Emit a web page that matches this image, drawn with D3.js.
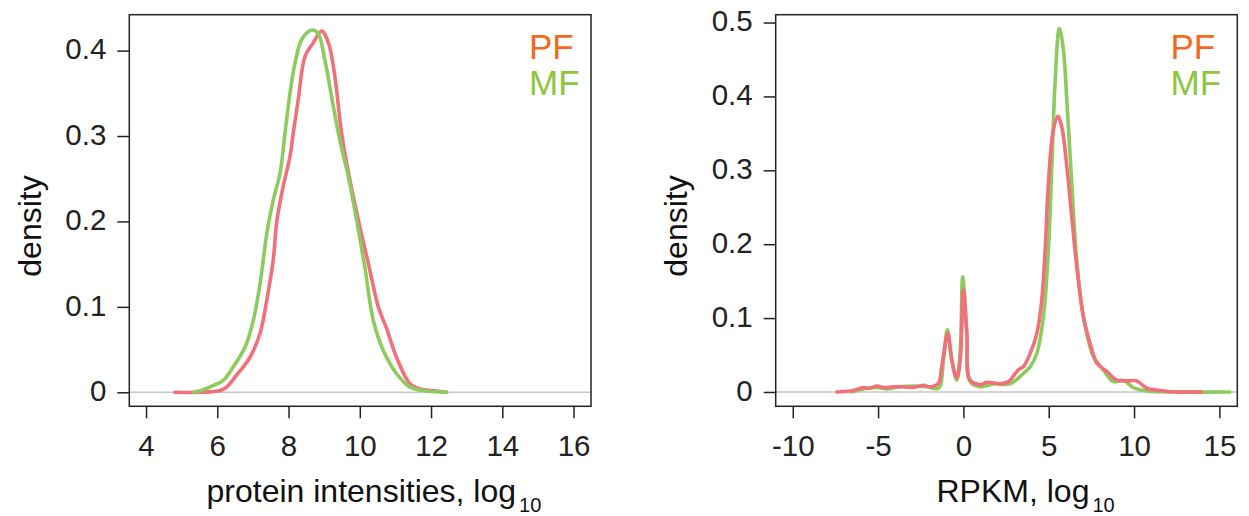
<!DOCTYPE html>
<html>
<head>
<meta charset="utf-8">
<script src="https://cdn.jsdelivr.net/npm/d3@7"></script>
<style>
  body { margin: 0; background: #fff; }
  svg { display: block; font-family: "Liberation Sans", Arial, Helvetica, sans-serif; }
</style>
</head>
<body>
<div class="chart"></div>
<script>
// density values
var protPFx = [4.81, 5.52, 6.08, 6.26, 6.54, 6.92, 7.20, 7.39, 7.57, 7.67, 7.85, 8.04, 8.13, 8.27, 8.46, 8.69, 8.93, 9.12, 9.30, 9.49, 9.72, 10.0, 10.24, 10.52, 10.75, 11.03, 11.41, 11.69, 12.16, 12.44];
var protPFy = [0, 0, 0.002, 0.006, 0.020, 0.041, 0.069, 0.108, 0.155, 0.200, 0.241, 0.276, 0.303, 0.342, 0.393, 0.409, 0.423, 0.409, 0.370, 0.303, 0.249, 0.194, 0.151, 0.100, 0.075, 0.041, 0.010, 0.004, 0.0015, 0];
var protMFx = [5.33, 5.61, 5.89, 6.17, 6.45, 6.78, 7.01, 7.20, 7.39, 7.57, 7.76, 7.90, 8.04, 8.18, 8.37, 8.65, 8.83, 9.02, 9.26, 9.44, 9.68, 9.91, 10.14, 10.38, 10.66, 11.03, 11.41, 11.88, 12.44];
var protMFy = [0, 0.003, 0.008, 0.014, 0.030, 0.053, 0.084, 0.127, 0.186, 0.225, 0.256, 0.303, 0.350, 0.385, 0.413, 0.424, 0.420, 0.389, 0.334, 0.295, 0.252, 0.202, 0.147, 0.084, 0.049, 0.022, 0.006, 0.0015, 0];

var rpkmPFx = [-7.42, -6.44, -5.86, -5.47, -5.07, -4.69, -4.10, -3.51, -2.93, -2.34, -1.95, -1.46, -1.27, -0.92, -0.68, -0.39, -0.19, 0.0, 0.20, 0.39, 0.98, 1.37, 2.15, 2.64, 3.22, 3.51, 3.91, 4.30, 4.59, 4.79, 4.98, 5.24, 5.53, 5.76, 6.06, 6.35, 6.64, 7.03, 7.42, 7.82, 8.40, 8.99, 9.57, 10.16, 10.74, 11.52, 12.5, 13.97];
var rpkmPFy = [0, 0.002, 0.006, 0.005, 0.008, 0.006, 0.007, 0.007, 0.006, 0.009, 0.007, 0.012, 0.034, 0.079, 0.043, 0.019, 0.043, 0.138, 0.079, 0.016, 0.010, 0.013, 0.011, 0.014, 0.030, 0.034, 0.052, 0.079, 0.124, 0.192, 0.282, 0.350, 0.373, 0.359, 0.305, 0.237, 0.170, 0.102, 0.066, 0.039, 0.028, 0.016, 0.015, 0.015, 0.005, 0.002, 0, 0];
var rpkmMFx = [-6.54, -5.86, -5.07, -4.49, -3.71, -2.93, -2.15, -1.46, -1.17, -0.94, -0.68, -0.39, -0.19, -0.04, 0.20, 0.39, 0.98, 1.76, 2.73, 3.51, 3.91, 4.30, 4.69, 4.98, 5.18, 5.37, 5.62, 5.86, 6.06, 6.35, 6.64, 7.03, 7.62, 8.20, 8.79, 9.37, 9.96, 10.74, 12.5, 15.62];
var rpkmMFy = [0, 0.004, 0.006, 0.004, 0.007, 0.008, 0.007, 0.005, 0.043, 0.084, 0.043, 0.016, 0.054, 0.156, 0.079, 0.014, 0.007, 0.011, 0.011, 0.025, 0.034, 0.052, 0.102, 0.192, 0.305, 0.418, 0.492, 0.463, 0.395, 0.282, 0.179, 0.102, 0.048, 0.030, 0.014, 0.016, 0.006, 0.0014, 0, 0];

var protXTicks = [4, 6, 8, 10, 12, 14, 16];
var protYTicks = [0, 0.1, 0.2, 0.3, 0.4];
var rpkmXTicks = [-10, -5, 0, 5, 10, 15];
var rpkmYTicks = [0, 0.1, 0.2, 0.3, 0.4, 0.5];

var seriesNames = ["PF", "MF"];

var width = 1249,
    height = 516,
    lineColor = { PF: "#F07179", MF: "#8DCB5F" },
    legendColor = { PF: "#F26A22", MF: "#8CC63F" };

var svg = d3.select(".chart").append("svg")
    .attr("width", width)
    .attr("height", height);

function drawPanel(p)
{
    var x = d3.scaleLinear().domain(p.xDomain).range([p.left, p.right]),
        y = d3.scaleLinear().domain(p.yDomain).range([406.3, 14.7]),
        g = svg.append("g");

    // zero line
    g.append("line")
        .attr("x1", p.left).attr("x2", p.right)
        .attr("y1", y(0)).attr("y2", y(0))
        .attr("stroke", "#c8c8c8").attr("stroke-width", 1.5);

    var line = d3.line()
        .x(function (d) { return x(d[0]); })
        .y(function (d) { return y(d[1]); })
        .curve(d3.curveCatmullRom.alpha(0.5));

    p.order.forEach(function (name) {
        var s = p.series[name];
        g.append("path")
            .datum(d3.zip(s[0], s[1]))
            .attr("d", line)
            .attr("fill", "none")
            .attr("stroke", lineColor[name])
            .attr("stroke-width", 3.6)
            .attr("stroke-linejoin", "round")
            .attr("stroke-linecap", "round");
    });

    var xAxis = g.append("g")
        .attr("transform", "translate(0," + 406.3 + ")")
        .call(d3.axisBottom(x).tickValues(p.xTicks).tickSize(12).tickPadding(17).tickFormat(String));
    var yAxis = g.append("g")
        .attr("transform", "translate(" + p.left + ",0)")
        .call(d3.axisLeft(y).tickValues(p.yTicks).tickSize(12).tickPadding(11).tickFormat(String));

    [xAxis, yAxis].forEach(function (a) {
        a.select(".domain").remove();
        a.selectAll(".tick line").attr("stroke", "#222").attr("stroke-width", 1.5);
        a.selectAll(".tick text").attr("fill", "#222").style("font-size", "29.5px")
            .style("font-family", "'Liberation Sans', Arial, Helvetica, sans-serif");
    });
    yAxis.selectAll(".tick text").attr("dy", "0.28em");

    // frame
    g.append("rect")
        .attr("x", p.left).attr("y", 14.7)
        .attr("width", p.right - p.left).attr("height", 406.3 - 14.7)
        .attr("fill", "none").attr("stroke", "#222").attr("stroke-width", 1.5);

    // axis titles
    var xl = g.append("text")
        .attr("x", p.xLabelX).attr("y", 501.7)
        .attr("fill", "#111").style("font-size", "32px")
        .text(p.xLabel);
    xl.append("tspan").attr("dx", 3).attr("dy", 10).style("font-size", "20px").text("10");

    g.append("text")
        .attr("transform", "translate(" + p.yLabelX + ",226) rotate(-90)")
        .attr("text-anchor", "middle")
        .attr("fill", "#111").style("font-size", "32px")
        .text("density");

    // legend
    seriesNames.forEach(function (name, i) {
        g.append("text")
            .attr("x", p.legendX).attr("y", 59.3 + i * 35.7)
            .attr("fill", legendColor[name])
            .style("font-size", "35px")
            .text(name);
    });
}

drawPanel({
    left: 129.3, right: 591,
    xDomain: [3.53, 16.49], yDomain: [-0.0164, 0.442],
    xTicks: protXTicks, yTicks: protYTicks,
    series: { PF: [protPFx, protPFy], MF: [protMFx, protMFy] },
    order: ["PF", "MF"],
    xLabel: "protein intensities, log", xLabelX: 206.5,
    yLabelX: 41, legendX: 529
});

drawPanel({
    left: 775.7, right: 1237.3,
    xDomain: [-11.0, 16.05], yDomain: [-0.0194, 0.5106],
    xTicks: rpkmXTicks, yTicks: rpkmYTicks,
    series: { PF: [rpkmPFx, rpkmPFy], MF: [rpkmMFx, rpkmMFy] },
    order: ["MF", "PF"],
    xLabel: "RPKM, log", xLabelX: 936.5,
    yLabelX: 687.4, legendX: 1170.5
});
</script>
</body>
</html>
